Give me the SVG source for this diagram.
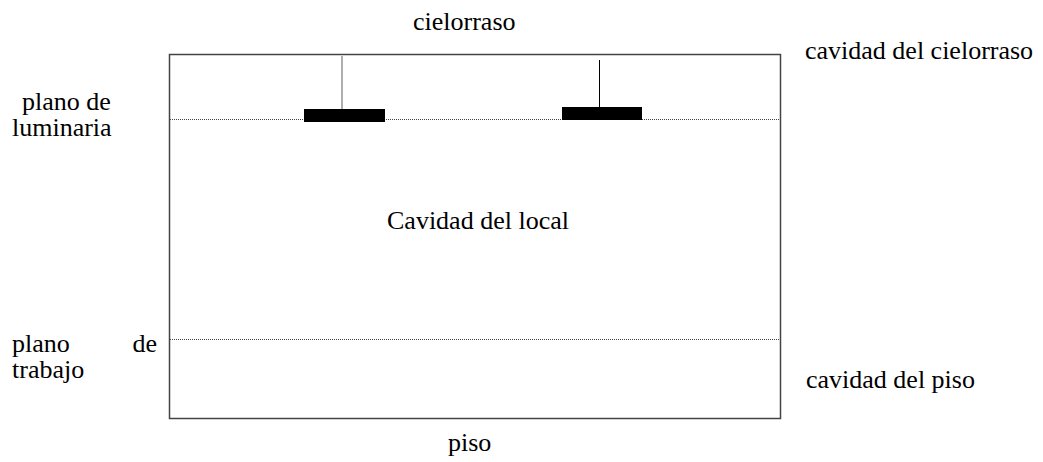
<svg xmlns="http://www.w3.org/2000/svg" width="1043" height="462" viewBox="0 0 1043 462">
<style>
.box{fill:none;stroke:#444;stroke-width:1.5}
.dot{stroke:#444;stroke-width:1;stroke-dasharray:1 1;fill:none}
.lum{fill:#000}
.stem{stroke:#000;stroke-width:1}
.t{font-family:'Liberation Serif','Times New Roman',serif;font-size:26px;fill:#000}
</style>
<rect width="1043" height="462" fill="#fff"/>
<g id="room">
<rect class="box" x="169.5" y="54.5" width="611" height="364"/>
</g>
<g id="connectors">
<line class="dot" x1="170" y1="119.5" x2="780" y2="119.5"/>
<line class="dot" x1="170" y1="339.5" x2="780" y2="339.5"/>
</g>
<g id="luminaria1">
<line x1="342" y1="56" x2="342" y2="109" stroke="#777" stroke-width="1.2"/>
<rect class="lum" x="304" y="109" width="81" height="13"/>
</g>
<g id="luminaria2">
<line class="stem" x1="599.5" y1="60" x2="599.5" y2="107"/>
<rect class="lum" x="562" y="107" width="80" height="13"/>
</g>
<g id="labels">
<text class="t" x="413" y="30" font-family="Liberation Serif">cielorraso</text>
<text class="t" x="805" y="59" font-family="Liberation Serif">cavidad del cielorraso</text>
<text class="t" x="22" y="110" font-family="Liberation Serif">plano de</text>
<text class="t" x="12" y="136" font-family="Liberation Serif">luminaria</text>
<text class="t" x="387" y="229" font-family="Liberation Serif">Cavidad del local</text>
<text class="t" x="12" y="352" font-family="Liberation Serif">plano</text>
<text class="t" x="157" y="352" text-anchor="end" font-family="Liberation Serif">de</text>
<text class="t" x="12" y="378" font-family="Liberation Serif">trabajo</text>
<text class="t" x="806" y="388" font-family="Liberation Serif">cavidad del piso</text>
<text class="t" x="448" y="451" font-family="Liberation Serif">piso</text>
</g>
</svg>
